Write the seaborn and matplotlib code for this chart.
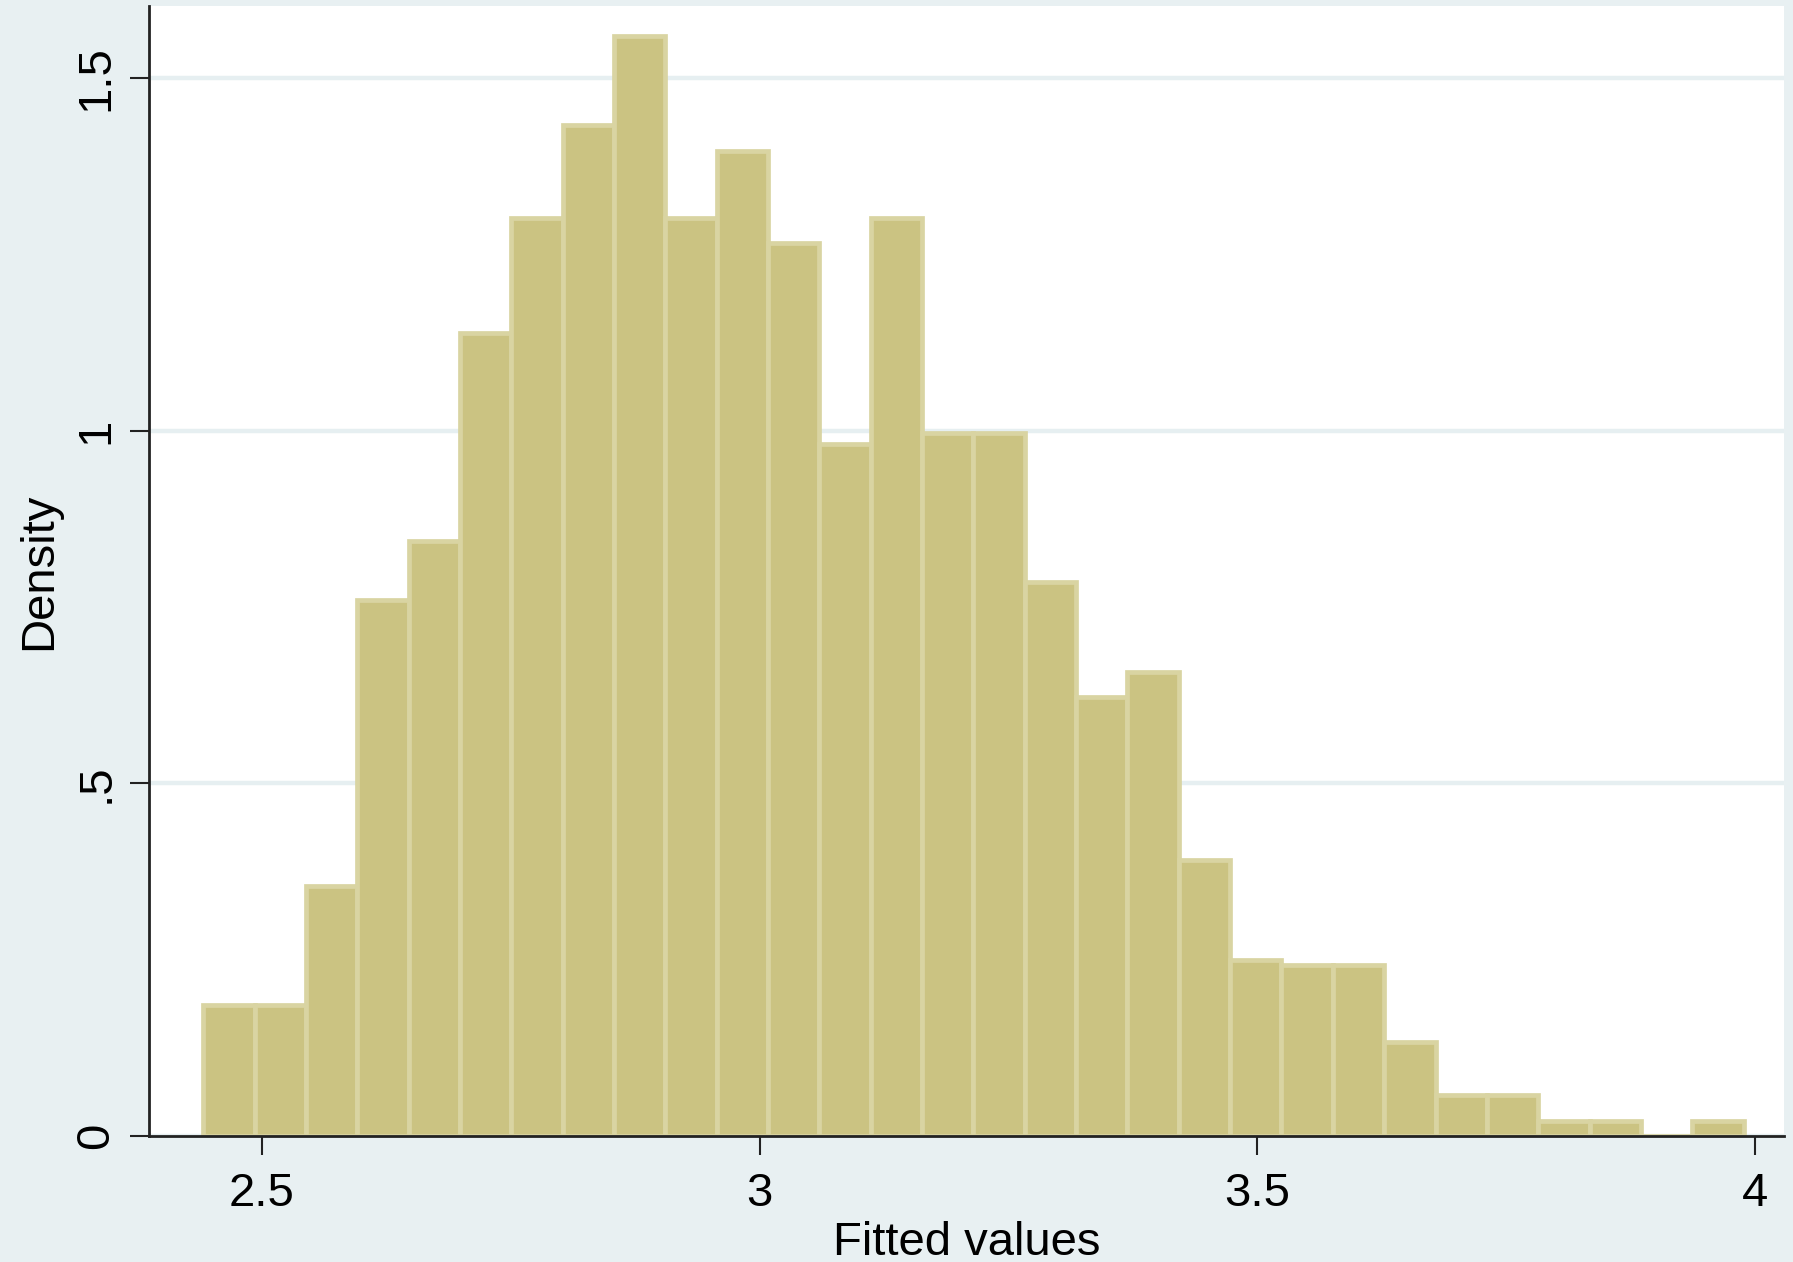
import numpy as np
import pandas as pd
import matplotlib
matplotlib.use("Agg")
import matplotlib.pyplot as plt
import seaborn as sns

# ---- data ----
bin_left = 2.4410
bin_width = 0.05158
density = [0.186, 0.186, 0.355, 0.760, 0.843, 1.138, 1.302, 1.433, 1.560, 1.302,
           1.396, 1.266, 0.981, 1.302, 0.997, 0.997, 0.785, 0.623, 0.658, 0.391,
           0.250, 0.243, 0.243, 0.133, 0.058, 0.058, 0.021, 0.021, 0.0, 0.021]
x_ticks = [2.5, 3.0, 3.5, 4.0]
x_tick_labels = ["2.5", "3", "3.5", "4"]
y_ticks = [0.0, 0.5, 1.0, 1.5]
y_tick_labels = ["0", ".5", "1", "1.5"]

n_bins = len(density)
edges = [bin_left + i * bin_width for i in range(n_bins + 1)]
centers = [bin_left + (i + 0.5) * bin_width for i in range(n_bins)]
df = pd.DataFrame({"fitted": centers, "density": density})

BG = "#E8F0F2"
GRID = "#E6EFF1"
FILL = "#CBC382"
EDGE = "#D9D4A2"

sns.set_theme(style="white")
plt.rcParams["font.family"] = ["Liberation Sans", "DejaVu Sans"]

fig = plt.figure(figsize=(17.93, 12.62), dpi=100, facecolor=BG)
ax = fig.add_axes([149 / 1793, 1 - 1136 / 1262, (1784 - 149) / 1793, (1136 - 6) / 1262])
ax.set_facecolor("white")

sns.histplot(data=df, x="fitted", weights="density", bins=edges, stat="count",
             color=FILL, alpha=1.0, edgecolor=EDGE, linewidth=3.4, ax=ax)

ax.set_xlim(2.3865, 4.029)
ax.set_ylim(0, 1.602)
ax.set_axisbelow(True)
ax.yaxis.grid(True, color=GRID, linewidth=3.2)
ax.xaxis.grid(False)

ax.set_xticks(x_ticks)
ax.set_xticklabels(x_tick_labels)
ax.set_yticks(y_ticks)
ax.set_yticklabels(y_tick_labels, rotation=90, va="center")

ax.tick_params(axis="both", which="major", labelsize=34, length=14, width=1.5,
               color="#222222", labelcolor="black", direction="out")
ax.tick_params(axis="x", pad=12, bottom=True)
ax.tick_params(axis="y", pad=8, left=True)

for side in ["top", "right"]:
    ax.spines[side].set_visible(False)
for side in ["left", "bottom"]:
    ax.spines[side].set_color("#222222")
    ax.spines[side].set_linewidth(2.0)

ax.set_xlabel("Fitted values", fontsize=34, color="black")
ax.set_ylabel("Density", fontsize=34, color="black")
ax.xaxis.set_label_coords(0.5, -0.075)
ax.yaxis.set_label_coords(-0.054, 0.5)

fig.savefig("out.png", dpi=100, facecolor=BG)
